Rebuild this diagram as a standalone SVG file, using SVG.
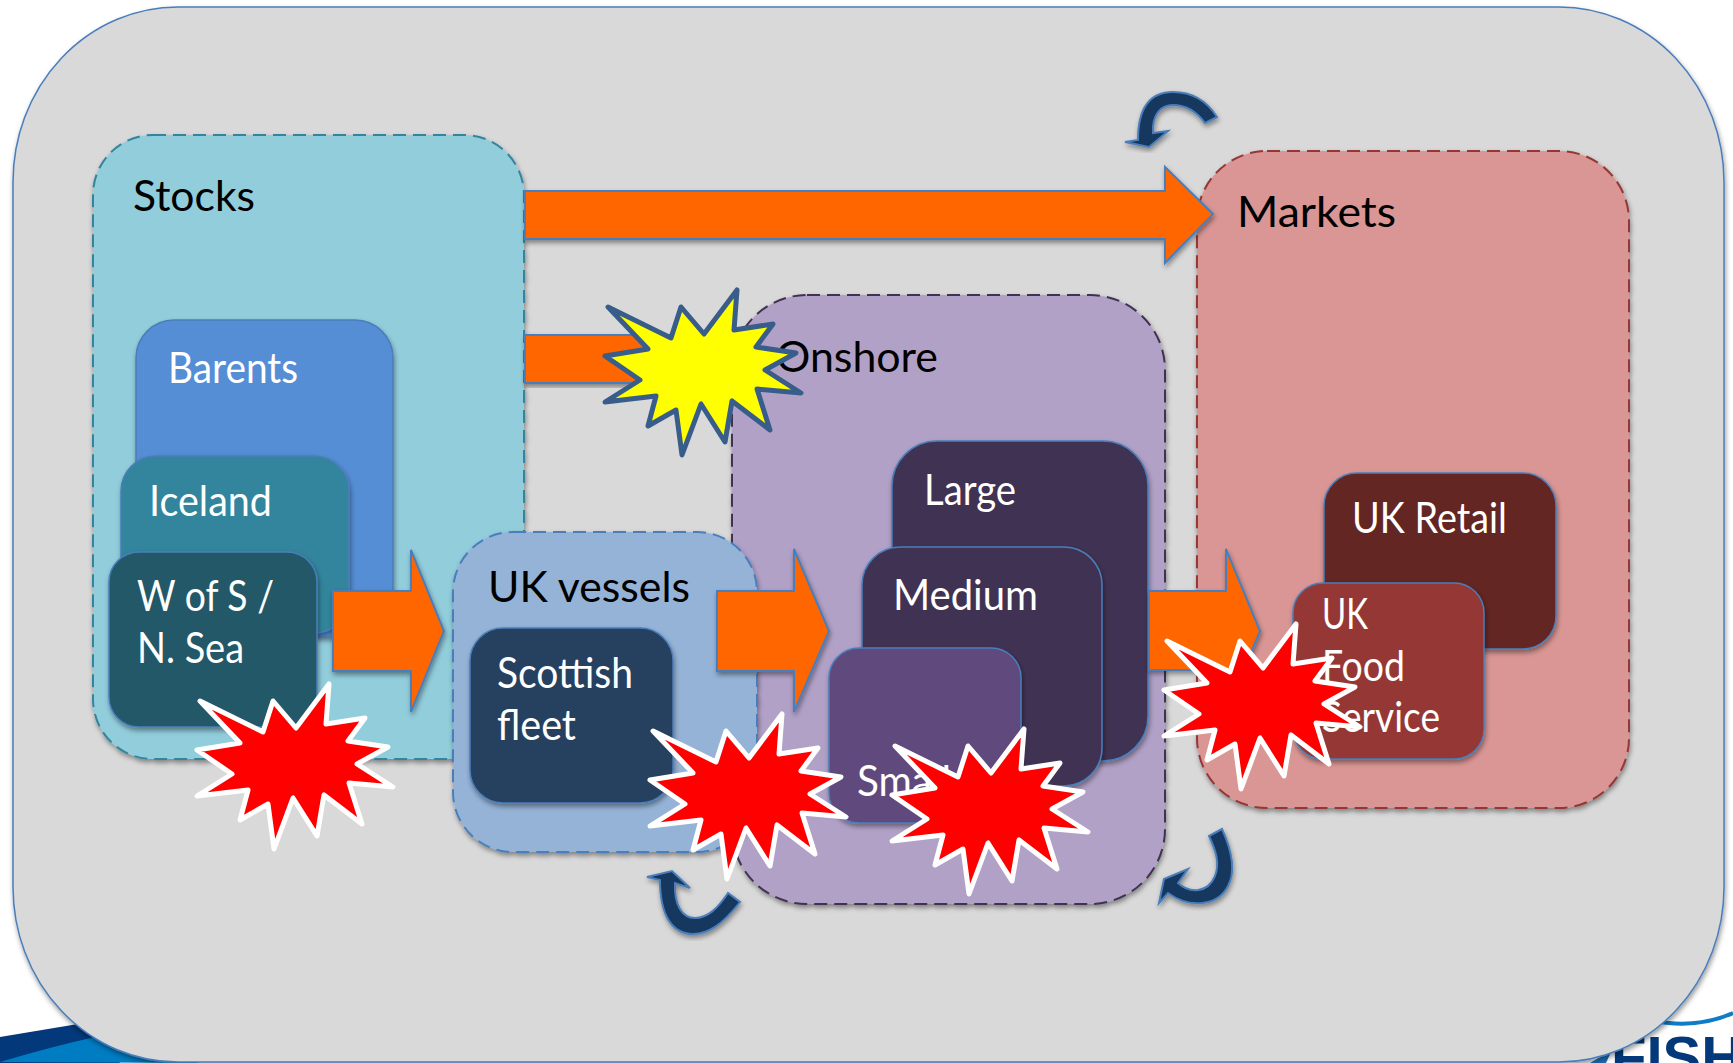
<svg xmlns="http://www.w3.org/2000/svg" xmlns:xlink="http://www.w3.org/1999/xlink" width="1733" height="1063" viewBox="0 0 1733 1063">
<style>
text{font-family:"Lato","Open Sans","Liberation Sans",sans-serif;font-size:43px}
.w{fill:#fff}.k{fill:#000}
.n{stroke:#4a7ebb;stroke-width:1.5;filter:url(#sh)}
.d{stroke-width:2;stroke-dasharray:13 7;filter:url(#sh)}
.a{fill:#ff6600;stroke:#4a7ebb;stroke-width:2;filter:url(#sh)}
.c{fill:#17375e;stroke:#4a7ebb;stroke-width:2;filter:url(#sh)}
.red{fill:#ff0000;stroke:#fff;stroke-width:5;stroke-linejoin:round}
.yel{fill:#ffff00;stroke:#385d8a;stroke-width:5;stroke-linejoin:round}
</style>
<defs>
<filter id="sh" x="-10%" y="-10%" width="120%" height="120%"><feDropShadow dx="1" dy="3" stdDeviation="2.5" flood-color="#000" flood-opacity=".4"/></filter>
<polygon id="star" points="100,180 163,211 173,180 196,207 229,163 226,203 265,197 248,220 288,226 257,243 293,266 249,262 262,303 224,274 217,315 193,277 174,328 168,283 140,299 148,269 97,275 132,253 97,229 140,222"/>
</defs>
<rect width="1733" height="1063" fill="#fff"/>
<g id="logo">
<path d="M0,1037 L90,1022 L120,1063 L0,1063Z" fill="#03387a"/>
<path d="M0,1062 Q50,1047 95,1037 L200,1063 Z" fill="#007cc3"/>
<path d="M1650,1020 Q1695,1030 1733,1013" fill="none" stroke="#0f7cc4" stroke-width="4"/>
<path d="M1590,1063 L1612,1050 L1606,1063Z" fill="#1f6fb8"/>
<text x="1611" y="1077" font-weight="700" style="font-family:'Liberation Sans',sans-serif;font-size:58px;fill:#03387a">FISH</text>
</g>
<rect id="frame" x="13" y="7" width="1711" height="1055" rx="165" ry="175" fill="#d9d9d9" class="n"/>
<g id="stocks"><rect x="93" y="135" width="431" height="624" rx="60" fill="#92cddc" stroke="#31859c" class="d"/><text class="k" x="133" y="211" textLength="122" lengthAdjust="spacingAndGlyphs">Stocks</text></g>
<g id="barents"><rect x="136" y="320" width="257" height="317" rx="38" fill="#558ed5" class="n"/><text class="w" x="168" y="383" textLength="130" lengthAdjust="spacingAndGlyphs">Barents</text></g>
<g id="iceland"><rect x="121" y="456" width="228" height="177" rx="35" fill="#31859c" class="n"/><text class="w" x="149" y="516" textLength="123" lengthAdjust="spacingAndGlyphs">Iceland</text></g>
<g id="wofs"><rect x="109" y="552" width="208" height="175" rx="30" fill="#215968" class="n"/><text class="w" x="137" y="611" textLength="137" lengthAdjust="spacingAndGlyphs">W of S /</text><text class="w" x="137" y="663" textLength="107" lengthAdjust="spacingAndGlyphs">N. Sea</text></g>
<g id="onshore"><rect x="732" y="295" width="433" height="609" rx="75" fill="#b2a1c7" stroke="#403152" class="d"/><text class="k" x="776" y="372" textLength="162" lengthAdjust="spacingAndGlyphs">Onshore</text></g>
<g id="large"><rect x="892" y="441" width="256" height="320" rx="45" fill="#403152" class="n"/><text class="w" x="924" y="505" textLength="92" lengthAdjust="spacingAndGlyphs">Large</text></g>
<g id="medium"><rect x="862" y="547" width="240" height="239" rx="38" fill="#403152" class="n"/><text class="w" x="893" y="610" textLength="145" lengthAdjust="spacingAndGlyphs">Medium</text></g>
<g id="small"><rect x="829" y="648" width="192" height="175" rx="30" fill="#604a7b" class="n"/><text class="w" x="857" y="796" textLength="94" lengthAdjust="spacingAndGlyphs">Small</text></g>
<g id="ukvessels"><rect x="453" y="532" width="304" height="320" rx="60" fill="#95b3d7" stroke="#4a7ebb" class="d"/><text class="k" x="488" y="602" textLength="202" lengthAdjust="spacingAndGlyphs">UK vessels</text></g>
<g id="scottish"><rect x="470" y="628" width="203" height="175" rx="33" fill="#254061" class="n"/><text class="w" x="497" y="688" textLength="136" lengthAdjust="spacingAndGlyphs">Scottish</text><text class="w" x="497" y="740" textLength="79" lengthAdjust="spacingAndGlyphs">fleet</text></g>
<g id="markets"><rect x="1197" y="151" width="432" height="657" rx="70" fill="#d99694" stroke="#953735" class="d"/><text class="k" x="1237" y="227" textLength="159" lengthAdjust="spacingAndGlyphs">Markets</text></g>
<g id="retail"><rect x="1324" y="473" width="232" height="176" rx="33" fill="#632523" class="n"/><text class="w" x="1352" y="533" textLength="155" lengthAdjust="spacingAndGlyphs">UK Retail</text></g>
<g id="foodservice"><rect x="1293" y="583" width="191" height="176" rx="30" fill="#953735" class="n"/><text class="w" x="1322" y="629" textLength="46" lengthAdjust="spacingAndGlyphs">UK</text><text class="w" x="1322" y="681" textLength="83" lengthAdjust="spacingAndGlyphs">Food</text><text class="w" x="1322" y="732" textLength="118" lengthAdjust="spacingAndGlyphs">Service</text></g>
<g id="connectors">
<path class="a" d="M525,191H1165V167L1213,214L1165,263V239H525Z"/>
<path class="a" d="M525,335H690V383H525Z"/>
<path class="a" d="M333,591H411V550L444,631L411,712V671H333Z"/>
<path class="a" d="M717,591H794V549L829,631L794,712V671H717Z"/>
<path class="a" d="M1149,591H1226V549L1260,631L1226,713V670H1149Z"/>
<path class="c" d="M1217,117C1205,98 1190,92 1173,92C1150,92 1138,108 1138,140L1125,142L1149,147L1168,131L1153,133C1152,115 1160,105 1173,105C1187,105 1197,112 1205,123Z"/>
<path class="c" d="M740,902C722,925 708,934 693,934C672,934 660,915 660,880L647,877L672,871L690,888L675,883C674,905 682,918 695,918C708,918 718,908 728,893Z"/>
<path class="c" d="M1222,829C1232,851 1236,871 1228,886C1218,906 1190,909 1168,893L1159,903L1164,879L1188,869L1178,883C1190,894 1208,893 1215,876C1220,863 1216,851 1209,836Z"/>
</g>
<g id="burst-yellow"><use xlink:href="#star" href="#star" class="yel" transform="translate(508,127)"/></g>
<g id="burst-stocks"><use href="#star" class="red" transform="translate(100,521)"/></g>
<g id="burst-vessels"><use href="#star" class="red" transform="translate(553,551)"/></g>
<g id="burst-onshore"><use href="#star" class="red" transform="translate(795,566)"/></g>
<g id="burst-markets"><use href="#star" class="red" transform="translate(1067,461)"/></g>
</svg>
